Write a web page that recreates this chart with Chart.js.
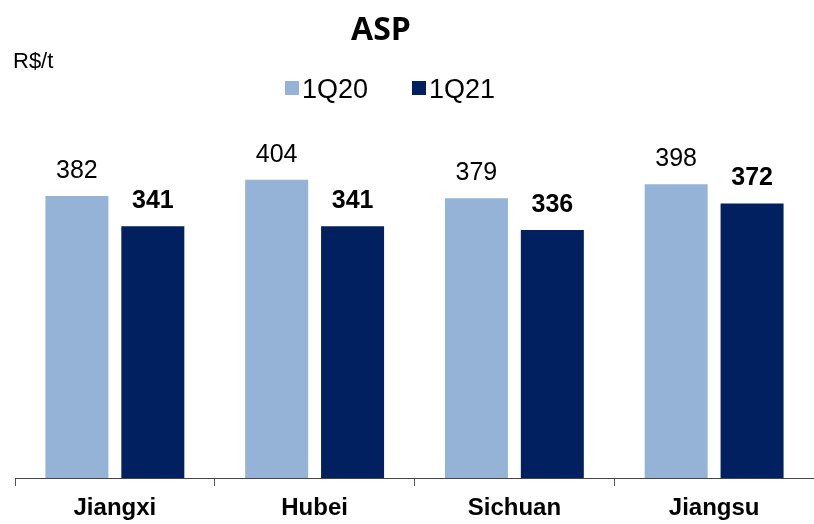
<!DOCTYPE html>
<html>
<head>
<meta charset="utf-8">
<script src="https://cdn.jsdelivr.net/npm/chart.js@4.4.1/dist/chart.umd.min.js"></script>
<style>
  html, body { margin: 0; padding: 0; background: #fff; }
  #wrap { width: 814px; height: 524px; }
</style>
</head>
<body>
<div id="wrap"><canvas id="aspChart" width="814" height="524"></canvas></div>
<script>
// --- data ---
const regions = ['Jiangxi', 'Hubei', 'Sichuan', 'Jiangsu'];
const seriesNames = ['1Q20', '1Q21'];
const asp1Q20 = [382, 404, 379, 398];
const asp1Q21 = [341, 341, 336, 372];
const colors = ['#95B3D7', '#002060'];

const FONT = '"Liberation Sans", Arial, sans-serif';

// title, unit, legend and value labels
const decorPlugin = {
    id: 'decor',
    afterDraw(chart) {
        const ctx = chart.ctx;
        ctx.save();
        ctx.fillStyle = '#000';

        ctx.font = 'bold 32px "Open Sans", sans-serif';
        ctx.textAlign = 'center';
        ctx.textBaseline = 'alphabetic';
        ctx.fillText('ASP', 381, 40);

        ctx.font = '22px ' + FONT;
        ctx.textAlign = 'left';
        ctx.fillText('R$/t', 13, 68);

        // legend
        const legendX = [285, 412];
        ctx.font = '27px ' + FONT;
        seriesNames.forEach((name, i) => {
            ctx.fillStyle = colors[i];
            ctx.fillRect(legendX[i], 81, 14, 14);
            ctx.fillStyle = '#000';
            ctx.fillText(name, legendX[i] + 17, 98);
        });

        // value labels
        chart.data.datasets.forEach((ds, di) => {
            const meta = chart.getDatasetMeta(di);
            ctx.font = (di === 1 ? 'bold ' : '') + '25px ' + FONT;
            ctx.textAlign = 'center';
            meta.data.forEach((bar, i) => {
                ctx.fillText(String(ds.data[i]), bar.x, bar.y - 18);
            });
        });
        ctx.restore();
    }
};

new Chart(document.getElementById('aspChart'), {
    type: 'bar',
    data: {
        labels: regions,
        datasets: [
            { label: seriesNames[0], data: asp1Q20, backgroundColor: colors[0] },
            { label: seriesNames[1], data: asp1Q21, backgroundColor: colors[1] }
        ]
    },
    options: {
        responsive: false,
        animation: false,
        devicePixelRatio: 1,
        categoryPercentage: 0.76,
        barPercentage: 0.83,
        layout: { padding: { top: 109, left: 15, right: 0, bottom: 0 } },
        plugins: {
            legend: { display: false },
            tooltip: { enabled: false }
        },
        scales: {
            y: { display: false, min: 0, max: 500 },
            x: {
                afterFit: scale => { scale.height = 46; },
                grid: { drawOnChartArea: false, drawTicks: true, tickLength: 8, color: '#555', offset: true },
                border: { color: '#444', width: 1 },
                ticks: { color: '#000', padding: 8, font: { family: FONT, size: 24, weight: 'bold' } }
            }
        }
    },
    plugins: [decorPlugin]
});
</script>
</body>
</html>
